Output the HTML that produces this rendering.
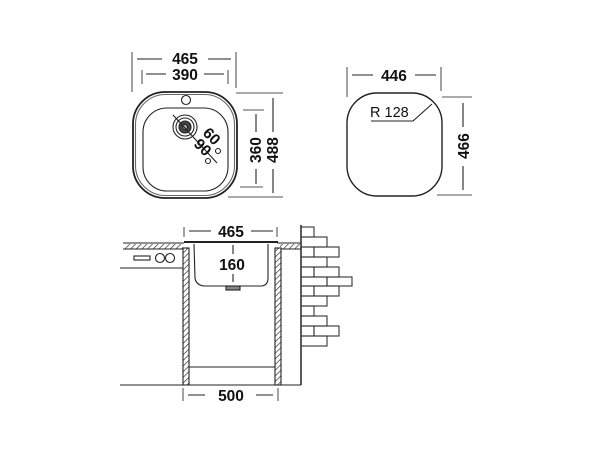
<!DOCTYPE html>
<html><head><meta charset="utf-8"><style>
html,body{margin:0;padding:0;background:#fff;width:600px;height:450px;overflow:hidden}
text{font-family:"Liberation Sans",Arial,sans-serif;font-weight:bold;fill:#111}
</style></head><body>
<svg width="600" height="450" viewBox="0 0 600 450" xmlns="http://www.w3.org/2000/svg">
<defs>
<pattern id="h" width="4" height="4" patternUnits="userSpaceOnUse" patternTransform="rotate(45)">
<rect width="4" height="4" fill="#fff"/><line x1="0" y1="0" x2="0" y2="4" stroke="#333" stroke-width="1.4"/>
</pattern>
</defs>
<g stroke="#222" stroke-width="1.1" fill="none">
<rect x="133" y="92" width="104" height="106" rx="32" stroke-width="1.8"/>
<rect x="135.5" y="94.5" width="99" height="101" rx="30" stroke="#666"/>
<rect x="143" y="108" width="85" height="83" rx="24"/>
<circle cx="186" cy="100" r="4.5"/>
<circle cx="185" cy="127" r="12"/>
<circle cx="185" cy="127" r="9"/>
<circle cx="185" cy="127" r="6" fill="#444"/>
<circle cx="185" cy="127" r="2.5" fill="#aaa"/>
<line x1="173" y1="115" x2="217" y2="163"/>
<circle cx="218" cy="151" r="2.5"/>
<circle cx="208" cy="161" r="2.5"/>
<line x1="132" y1="52" x2="132" y2="92" stroke="#555"/>
<line x1="236" y1="52" x2="236" y2="88" stroke="#555"/>
<line x1="137" y1="59" x2="162" y2="59"/><line x1="208" y1="59" x2="231" y2="59"/>
<line x1="142" y1="70" x2="142" y2="84" stroke="#555"/>
<line x1="228" y1="70" x2="228" y2="84" stroke="#555"/>
<line x1="146" y1="74" x2="166" y2="74"/><line x1="204" y1="74" x2="224" y2="74"/>
<line x1="236" y1="93" x2="283" y2="93" stroke="#555"/>
<line x1="228" y1="197" x2="283" y2="197" stroke="#555"/>
<line x1="243" y1="110" x2="264" y2="110" stroke="#555"/>
<line x1="240" y1="187" x2="263" y2="187" stroke="#555"/>
<line x1="256" y1="114" x2="256" y2="132"/><line x1="256" y1="169" x2="256" y2="184"/>
<line x1="273" y1="98" x2="273" y2="132"/><line x1="273" y1="169" x2="273" y2="193"/>
<rect x="347" y="93" width="95" height="103" rx="30" stroke-width="1.4"/>
<line x1="347" y1="67" x2="347" y2="97" stroke="#555"/>
<line x1="441" y1="67" x2="441" y2="91" stroke="#555"/>
<line x1="352" y1="75" x2="373" y2="75"/><line x1="415" y1="75" x2="436" y2="75"/>
<line x1="442" y1="97" x2="472" y2="97" stroke="#555"/>
<line x1="437" y1="195" x2="472" y2="195" stroke="#555"/>
<line x1="463" y1="103" x2="463" y2="127"/><line x1="463" y1="166" x2="463" y2="190"/>
<polyline points="371,121 413,121 432,104"/>
<rect x="125" y="244" width="58" height="5" fill="url(#h)" stroke="none"/>
<line x1="123" y1="243" x2="184" y2="243"/><line x1="123" y1="249" x2="183" y2="249"/>
<rect x="280" y="244" width="21" height="5" fill="url(#h)" stroke="none"/>
<line x1="277" y1="243" x2="301" y2="243"/><line x1="280" y1="249" x2="301" y2="249"/>
<line x1="184" y1="242" x2="278" y2="242" stroke-width="2"/>
<path d="M194 244 L195 278 Q196 285 204 286 L262 286 Q268 285 268 278 L268 244"/>
<rect x="226" y="286" width="14" height="4" fill="#888"/>
<rect x="183" y="248" width="6" height="137" fill="url(#h)"/>
<rect x="275" y="248" width="6" height="137" fill="url(#h)"/>
<line x1="189" y1="367" x2="275" y2="367"/>
<line x1="120" y1="385" x2="301" y2="385"/>
<line x1="120" y1="268" x2="183" y2="268"/>
<rect x="134" y="256" width="16" height="4"/>
<circle cx="160" cy="258" r="4.5"/><circle cx="170" cy="258" r="4.5"/>
<line x1="184" y1="227" x2="184" y2="237" stroke="#555"/>
<line x1="277" y1="227" x2="277" y2="237" stroke="#555"/>
<line x1="189" y1="231" x2="211" y2="231"/><line x1="251" y1="231" x2="273" y2="231"/>
<line x1="233" y1="245" x2="233" y2="254"/><line x1="233" y1="274" x2="233" y2="282"/>
<line x1="183" y1="388" x2="183" y2="401" stroke="#555"/>
<line x1="278" y1="388" x2="278" y2="401" stroke="#555"/>
<line x1="188" y1="395" x2="205" y2="395"/><line x1="256" y1="395" x2="273" y2="395"/>
<line x1="301" y1="225" x2="301" y2="385" stroke-width="1.5"/>
<g stroke="#333">
<rect x="301" y="227" width="13" height="10"/>
<rect x="301" y="237" width="26" height="10"/>
<rect x="301" y="247" width="13" height="10"/><rect x="314" y="247" width="25" height="10"/>
<rect x="301" y="257" width="26" height="10"/>
<rect x="301" y="267" width="13" height="10"/><rect x="314" y="267" width="25" height="10"/>
<rect x="301" y="277" width="26" height="9"/><rect x="327" y="277" width="25" height="9"/>
<rect x="301" y="286" width="13" height="10"/><rect x="314" y="286" width="25" height="10"/>
<rect x="301" y="296" width="26" height="10"/>
<rect x="301" y="306" width="13" height="10"/>
<rect x="301" y="316" width="26" height="10"/>
<rect x="301" y="326" width="13" height="10"/><rect x="314" y="326" width="25" height="10"/>
<rect x="301" y="336" width="26" height="10"/>
</g>
</g>
<g font-size="15.5">
<text x="185" y="64" text-anchor="middle">465</text>
<text x="185" y="80" text-anchor="middle">390</text>
<text x="394" y="81" text-anchor="middle">446</text>
<text x="231" y="237" text-anchor="middle">465</text>
<text x="232" y="270" text-anchor="middle">160</text>
<text x="231" y="401" text-anchor="middle">500</text>
<text transform="translate(261,150) rotate(-90)" text-anchor="middle">360</text>
<text transform="translate(278,150) rotate(-90)" text-anchor="middle">488</text>
<text transform="translate(469,146) rotate(-90)" text-anchor="middle">466</text>
<text transform="translate(208,140) rotate(45)" text-anchor="middle">60</text>
<text transform="translate(199,151) rotate(45)" text-anchor="middle">90</text>
</g>
<text x="370" y="117" font-size="14.5" style="font-weight:normal">R 128</text>
</svg>
</body></html>
